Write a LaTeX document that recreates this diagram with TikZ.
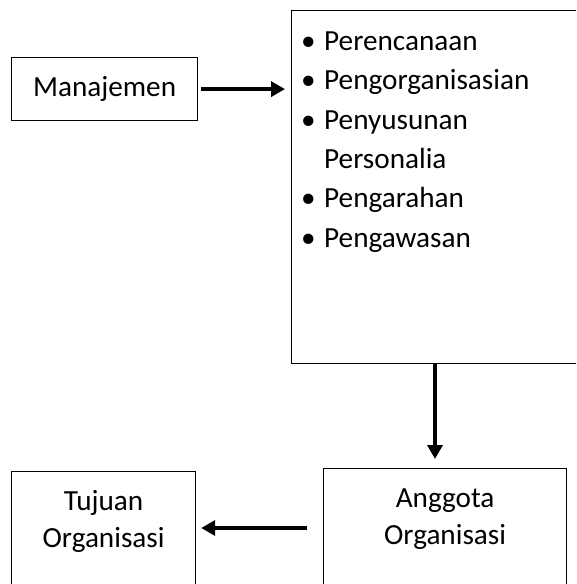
\documentclass[tikz,border=0pt]{standalone}
\usepackage{fontspec}
\setmainfont{Carlito}
\usetikzlibrary{arrows.meta}
\tikzset{
  kotak/.style={
    draw,
    line width=1.2pt,
    inner sep=0pt,
    anchor=north west,
  },
  panah/.style={
    line width=4pt,
    -{Triangle[length=14pt, width=15pt]},
  },
}
\newcommand{\isikotak}[3]{\parbox[t][#2][t]{#1}{\centering\rule{0pt}{39pt}#3}}
\newcommand{\butir}{\makebox[23pt][l]{\textbullet}}

\begin{document}
\begin{tikzpicture}[x=1pt, y=-1pt, font=\fontsize{29.2}{37}\selectfont]
        \clip (0,0) rectangle (576,584);
        \node[kotak, minimum width=186pt, minimum height=63pt] (manajemen) at (11,57) {Manajemen};
        \node[kotak, minimum width=320pt, minimum height=353pt] (fungsi)   at (291,10) {};
        \node[anchor=north west, inner sep=0pt, align=left,
              font=\fontsize{29.2}{39.4}\selectfont] (daftar) at (301,30)
              {\rule{0pt}{20pt}\butir Perencanaan\\
               \butir Pengorganisasian\\
               \butir Penyusunan\\
               \hspace*{23pt}Personalia\\
               \butir Pengarahan\\
               \butir Pengawasan};
        \node[kotak] (anggota) at (323,468) {\isikotak{243pt}{140pt}{Anggota\\Organisasi}};
        \node[kotak] (tujuan)  at (11,471)  {\isikotak{184pt}{140pt}{Tujuan\\Organisasi}};

        \draw[panah, shorten <=3pt, shorten >=6pt] (manajemen.east) -- (manajemen.east -| fungsi.west);
        \draw[panah, shorten >=9pt] ([xshift=144pt]fungsi.south west) -- ([xshift=144pt]fungsi.south west |- anggota.north);
        \draw[panah, shorten <=16pt, shorten >=5pt] ([yshift=-60pt]anggota.north west) -- ([yshift=-60pt]anggota.north west -| tujuan.east);
\end{tikzpicture}
\end{document}
